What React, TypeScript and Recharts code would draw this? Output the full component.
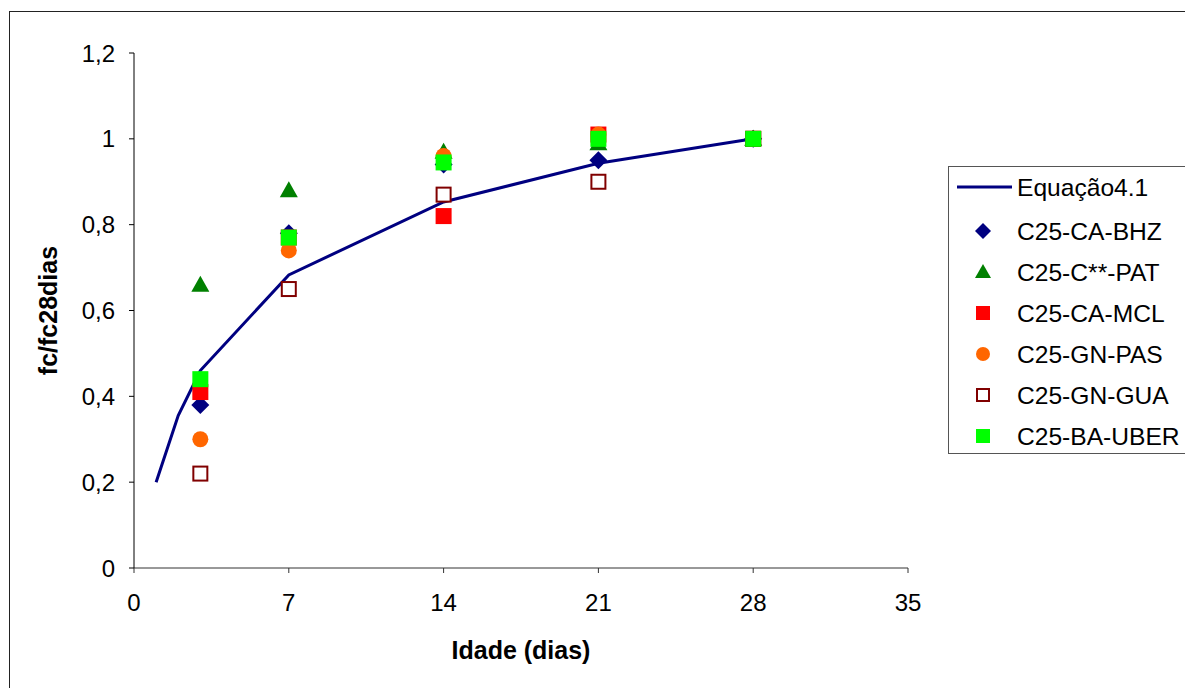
import React from 'react'
import { ComposedChart, Line, Scatter, XAxis, YAxis, Label } from 'recharts'

// Equação 4.1 curve
const eqDays = [1, 2, 3, 7, 14, 21, 28]
const eqValues = [0.2, 0.355, 0.46, 0.683, 0.853, 0.943, 1.0]

const ages = [3, 7, 14, 21, 28]
const bhz = [0.38, 0.78, 0.94, 0.95, 1.0]
const pat = [0.66, 0.88, 0.97, 0.99, 1.0]
const mcl = [0.41, 0.77, 0.82, 1.01, 1.0]
const pas = [0.3, 0.74, 0.96, 1.01, 1.0]
const gua = [0.22, 0.65, 0.87, 0.9, 1.0]
const uber = [0.44, 0.77, 0.945, 1.0, 1.0]

const xTicks = [0, 7, 14, 21, 28, 35]
const yTicks = [0, 0.2, 0.4, 0.6, 0.8, 1, 1.2]

const FONT = '"Liberation Sans", Arial, sans-serif'

const toPoints = (vals: number[]) => ages.map((x, i) => ({ x, y: vals[i] }))
const eqData = eqDays.map((x, i) => ({ x, y: eqValues[i] }))

type Marker = 'diamond' | 'triangle' | 'square' | 'circle' | 'hollow'

function drawMarker(kind: Marker, cx: number, cy: number, color: string, s = 8) {
  switch (kind) {
    case 'diamond':
      return <path d={`M${cx},${cy - s - 1}L${cx + s + 1},${cy}L${cx},${cy + s + 1}L${cx - s - 1},${cy}Z`} fill={color} />
    case 'triangle':
      return <path d={`M${cx},${cy - s - 1}L${cx + s + 1},${cy + s - 1}L${cx - s - 1},${cy + s - 1}Z`} fill={color} />
    case 'circle':
      return <circle cx={cx} cy={cy} r={s} fill={color} />
    case 'hollow':
      return <rect x={cx - s + 1} y={cy - s + 1} width={2 * s - 2} height={2 * s - 2} fill="#fff" stroke={color} strokeWidth={2} />
    default:
      return <rect x={cx - s} y={cy - s} width={2 * s} height={2 * s} fill={color} />
  }
}

const series: { name: string; vals: number[]; color: string; marker: Marker }[] = [
  { name: 'C25-CA-BHZ', vals: bhz, color: '#000080', marker: 'diamond' },
  { name: 'C25-C**-PAT', vals: pat, color: '#008000', marker: 'triangle' },
  { name: 'C25-CA-MCL', vals: mcl, color: '#ff0000', marker: 'square' },
  { name: 'C25-GN-PAS', vals: pas, color: '#ff6600', marker: 'circle' },
  { name: 'C25-GN-GUA', vals: gua, color: '#800000', marker: 'hollow' },
  { name: 'C25-BA-UBER', vals: uber, color: '#00ff00', marker: 'square' },
]

const tickStyle = { fill: '#000', fontSize: 24, fontFamily: FONT }
const legendText = { fontSize: 24.6, fontFamily: FONT, fill: '#000' }

export default function App() {
  return (
    <div style={{ position: 'fixed', left: 0, top: 0, width: 1185, height: 688, overflow: 'hidden', background: '#fff' }}>
      <div style={{ position: 'absolute', left: 9, top: 11, width: 1200, height: 700, border: '1px solid #222', boxSizing: 'border-box' }} />
      <div style={{ position: 'absolute', left: 0, top: 0 }}>
        <ComposedChart width={1185} height={688} margin={{ top: 53, right: 277, left: 34, bottom: 60 }}>
          <XAxis
            type="number"
            dataKey="x"
            domain={[0, 35]}
            ticks={xTicks}
            allowDuplicatedCategory={false}
            tick={tickStyle}
            tickSize={5}
            tickMargin={21}
            stroke="#333"
            height={60}
          >
            <Label
              value="Idade (dias)"
              position="bottom"
              offset={13}
              style={{ fontSize: 25, fontWeight: 'bold', fill: '#000', fontFamily: FONT }}
            />
          </XAxis>
          <YAxis
            type="number"
            dataKey="y"
            domain={[0, 1.2]}
            ticks={yTicks}
            tick={tickStyle}
            tickFormatter={(v: number) => String(v).replace('.', ',')}
            tickSize={5}
            tickMargin={14}
            stroke="#000"
            width={100}
          >
            <Label
              content={({ viewBox }: any) => {
                const cx = 48
                const cy = viewBox.y + viewBox.height / 2
                return (
                  <text
                    x={cx}
                    y={cy}
                    transform={`rotate(-90 ${cx} ${cy})`}
                    textAnchor="middle"
                    dominantBaseline="central"
                    style={{ fontSize: 25, fontWeight: 'bold', fill: '#000', fontFamily: FONT }}
                  >
                    fc/fc28dias
                  </text>
                )
              }}
            />
          </YAxis>
          <Line
            data={eqData}
            dataKey="y"
            type="linear"
            stroke="#000080"
            strokeWidth={3}
            dot={false}
            isAnimationActive={false}
          />
          {series.map((s) => (
            <Scatter
              key={s.name}
              name={s.name}
              data={toPoints(s.vals)}
              dataKey="y"
              isAnimationActive={false}
              shape={(p: any) => drawMarker(s.marker, p.cx, p.cy, s.color)}
            />
          ))}
        </ComposedChart>
      </div>
      <div
        style={{
          position: 'absolute',
          left: 948,
          top: 166,
          width: 260,
          height: 288,
          border: '1px solid #555',
          boxSizing: 'border-box',
        }}
      >
        <svg width={260} height={288} style={{ position: 'absolute', left: -1, top: -1 }}>
          <line x1={9} y1={21} x2={64} y2={21} stroke="#000080" strokeWidth={3} />
          {series.map((s, i) => (
            <g key={s.name}>{drawMarker(s.marker, 35, 65 + i * 41, s.color, 7)}</g>
          ))}
          <text x={69} y={21} dominantBaseline="central" style={legendText}>
            Equação4.1
          </text>
          {series.map((s, i) => (
            <text key={s.name} x={69} y={65 + i * 41} dominantBaseline="central" style={legendText}>
              {s.name}
            </text>
          ))}
        </svg>
      </div>
    </div>
  )
}
